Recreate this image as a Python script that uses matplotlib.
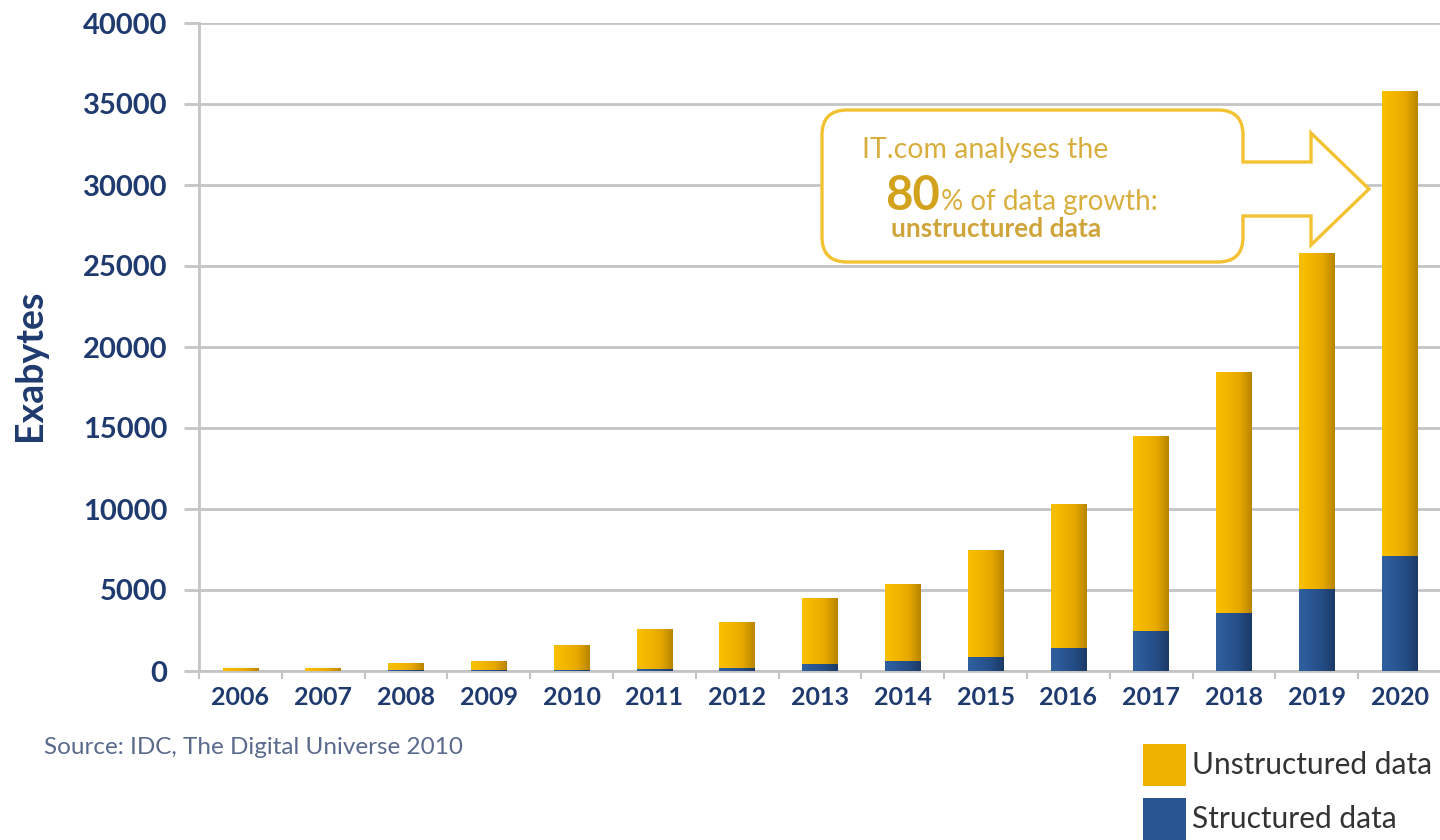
import numpy as np
import matplotlib
matplotlib.use("Agg")
import matplotlib.pyplot as plt
from matplotlib.colors import LinearSegmentedColormap
from matplotlib.patches import Rectangle, PathPatch
from matplotlib.path import Path

# ---------------- data ----------------
years = ["2006", "2007", "2008", "2009", "2010", "2011", "2012", "2013",
         "2014", "2015", "2016", "2017", "2018", "2019", "2020"]
structured = [20, 20, 40, 50, 60, 100, 200, 450, 600, 870, 1450, 2450, 3570, 5070, 7100]
totals = [200, 200, 470, 620, 1600, 2580, 3020, 4520, 5380, 7480, 10300, 14500, 18450, 25800, 35800]
unstructured = [t - s for t, s in zip(totals, structured)]
yticks = [0, 5000, 10000, 15000, 20000, 25000, 30000, 35000, 40000]

W, H = 1440, 840
FONT = "Lato"
NAVY = "#1F3A6E"
GOLD = "#F5B800"
BLUE = "#2B5896"
GRID = "#C4C4C4"

fig = plt.figure(figsize=(W / 100, H / 100), dpi=100)
fig.patch.set_facecolor("white")

def fx(px):
    return px / W

def fy(py):
    return 1 - py / H

ax = fig.add_axes([fx(199), fy(671), fx(1441) - fx(199), fy(23) - fy(671)])
x = np.arange(len(years))
bw = 0.43
b1 = ax.bar(x, structured, width=bw, color=BLUE, zorder=3, linewidth=0)
b2 = ax.bar(x, unstructured, bottom=structured, width=bw, color=GOLD, zorder=3, linewidth=0)

# horizontal gradient on each bar
cm_gold = LinearSegmentedColormap.from_list("g", ["#F9C000", "#F3B500", "#E6A800", "#B88500"])
cm_blue = LinearSegmentedColormap.from_list("b", ["#2F609F", "#2A5794", "#244C84", "#1B3A66"])
grad = np.linspace(0, 1, 64).reshape(1, -1)
for cont, cm in ((b1, cm_blue), (b2, cm_gold)):
    for p in cont.patches:
        x0, y0, w, h = p.get_x(), p.get_y(), p.get_width(), p.get_height()
        if h <= 0:
            continue
        im = ax.imshow(grad, extent=[x0, x0 + w, y0, y0 + h], aspect="auto",
                       cmap=cm, zorder=3.5, interpolation="bilinear")
        im.set_clip_path(p)

ax.set_xlim(-0.5, len(years) - 0.5)
ax.set_ylim(0, 40000)
ax.set_yticks(yticks)
ax.set_yticklabels([str(v) for v in yticks])
ax.yaxis.grid(True, color=GRID, linewidth=2, zorder=0)
ax.set_axisbelow(True)

# x ticks at category boundaries, labels at centres
ax.set_xticks(x)
ax.set_xticklabels(years)
ax.set_xticks(np.arange(-0.5, len(years), 1.0), minor=True)
ax.tick_params(axis="x", which="major", length=0, pad=11, labelsize=18,
               labelcolor=NAVY)
ax.tick_params(axis="x", which="minor", length=6, width=1.5, color=GRID)
ax.tick_params(axis="y", length=11, width=2, color=GRID, pad=12, labelsize=21,
               labelcolor=NAVY)
for lab in ax.get_xticklabels() + ax.get_yticklabels():
    lab.set_fontfamily(FONT)
    lab.set_fontweight("bold")

for s in ("top", "right"):
    ax.spines[s].set_visible(False)
ax.spines["left"].set_color(GRID)
ax.spines["left"].set_linewidth(2)
ax.spines["bottom"].set_color(GRID)
ax.spines["bottom"].set_linewidth(2)

# y label
fig.text(fx(30), fy(365), "Exabytes", rotation=90, ha="center", va="center",
         fontsize=27, fontweight="bold", color=NAVY, family=FONT)

# source
fig.text(fx(44), fy(747), "Source: IDC, The Digital Universe 2010", ha="left",
         va="center", fontsize=17.5, color="#5A6A8C", family=FONT)

# legend (manual)
leg_items = [("Unstructured data", cm_gold, 744, 786), ("Structured data", cm_blue, 798, 840)]
for label, cm, ytop, ybot in leg_items:
    r = Rectangle((fx(1143), fy(ybot)), fx(1186) - fx(1143), fy(ytop) - fy(ybot),
                  transform=fig.transFigure, facecolor=cm(0.4), edgecolor="none")
    fig.add_artist(r)
    fig.text(fx(1192), fy((ytop + ybot) / 2), label, ha="left", va="center",
             fontsize=21.5, color="#333333", family=FONT)

# callout box with arrow
rr = 25
L, T, R, B = 822, 110, 1243, 262
pts = [
    ((L + rr, T), Path.MOVETO),
    ((R - rr, T), Path.LINETO),
    ((R, T), Path.CURVE3), ((R, T + rr), Path.CURVE3),
    ((R, 162), Path.LINETO),
    ((1311, 162), Path.LINETO),
    ((1311, 133), Path.LINETO),
    ((1369, 189), Path.LINETO),
    ((1311, 245), Path.LINETO),
    ((1311, 216), Path.LINETO),
    ((R, 216), Path.LINETO),
    ((R, B - rr), Path.LINETO),
    ((R, B), Path.CURVE3), ((R - rr, B), Path.CURVE3),
    ((L + rr, B), Path.LINETO),
    ((L, B), Path.CURVE3), ((L, B - rr), Path.CURVE3),
    ((L, T + rr), Path.LINETO),
    ((L, T), Path.CURVE3), ((L + rr, T), Path.CURVE3),
    ((L + rr, T), Path.CLOSEPOLY),
]
verts = [(fx(a), fy(b)) for (a, b), _ in pts]
codes = [c for _, c in pts]
callout = PathPatch(Path(verts, codes), transform=fig.transFigure,
                    facecolor="white", edgecolor="#F2C232", linewidth=2.4, zorder=5)
fig.add_artist(callout)

TXT = "#D8AE3E"
fig.text(fx(862), fy(150), "IT.com analyses the", ha="left", va="center",
         fontsize=20.5, color=TXT, family=FONT, zorder=6)
t80 = fig.text(fx(885), fy(210), "80", ha="left", va="baseline", fontsize=34,
               fontweight="bold", color="#D3A21C", family=FONT, zorder=6)
fig.canvas.draw()
bb = t80.get_window_extent(fig.canvas.get_renderer())
fig.text(bb.x1 / W + fx(1), fy(210), "% of data growth:", ha="left", va="baseline",
         fontsize=20, color=TXT, family=FONT, zorder=6)
fig.text(fx(996), fy(229), "unstructured data", ha="center", va="center",
         fontsize=19, fontweight="bold", color="#CFA43A", family=FONT, zorder=6)

fig.savefig("out.png", dpi=100, facecolor="white")
